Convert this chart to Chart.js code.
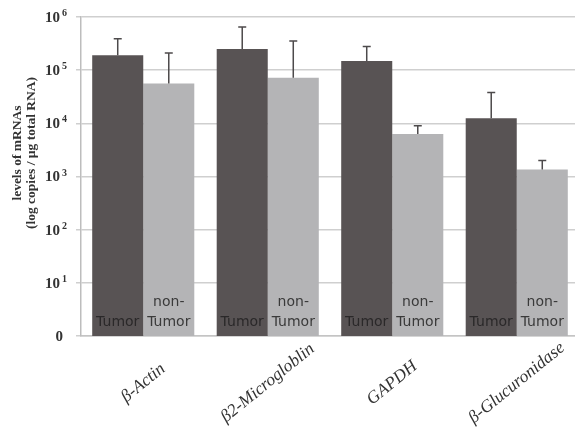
<!DOCTYPE html>
<html><head><meta charset="utf-8">
<script src="https://cdn.jsdelivr.net/npm/chart.js@4/dist/chart.umd.min.js"></script>
<style>
html,body{margin:0;padding:0;background:#fff;overflow:hidden;width:575px;height:432px}
#wrap{width:575px;height:432px;overflow:hidden;position:relative}
canvas{position:absolute;left:0;top:0}
</style></head>
<body><div id="wrap"><canvas id="c" width="580" height="432" style="width:580px;height:432px"></canvas></div>
<script>
const categories = ['β-Actin', 'β2-Microgloblin', 'GAPDH', 'β-Glucuronidase'];
const seriesNames = ['Tumor', 'non-Tumor'];
const tumorValues = [190000, 250000, 148000, 12400];
const tumorErrorTops = [390000, 650000, 280000, 38000];
const nonTumorValues = [56000, 72000, 6300, 1360];
const nonTumorErrorTops = [210000, 355000, 9000, 2000];
const yTickValues = [1, 10, 100, 1000, 10000, 100000, 1000000];
const yTickBases = ['0', '10', '10', '10', '10', '10', '10'];
const yTickExponents = ['', '1', '2', '3', '4', '5', '6'];
const yTitleLines = ['levels of mRNAs', '(log copies / µg total RNA)'];
const barInnerLabels = [['Tumor'], ['non-', 'Tumor']];

const SERIF = '"Liberation Serif", "DejaVu Serif", serif';
const SANS = '"DejaVu Sans", Verdana, sans-serif';
const errorTops = [tumorErrorTops, nonTumorErrorTops];

const drawPlugin = {
  id: 'custom',
  afterDatasetsDraw(chart) {
    const ctx = chart.ctx;
    const y = chart.scales.y;
    ctx.save();
    ctx.strokeStyle = '#4d4a4b';
    ctx.lineWidth = 1.5;
    chart.data.datasets.forEach((ds, d) => {
      const meta = chart.getDatasetMeta(d);
      meta.data.forEach((bar, i) => {
        const top = y.getPixelForValue(errorTops[d][i]);
        ctx.beginPath();
        ctx.moveTo(bar.x, bar.y);
        ctx.lineTo(bar.x, top);
        ctx.moveTo(bar.x - 4, top);
        ctx.lineTo(bar.x + 4, top);
        ctx.stroke();
      });
    });
    ctx.font = '14px ' + SANS;
    ctx.textAlign = 'center';
    ctx.textBaseline = 'alphabetic';
    chart.data.datasets.forEach((ds, d) => {
      const meta = chart.getDatasetMeta(d);
      const lines = barInnerLabels[d];
      ctx.fillStyle = d === 0 ? '#2a2829' : '#3a3a3a';
      meta.data.forEach((bar) => {
        for (let k = 0; k < lines.length; k++) {
          const base = y.bottom - 10 - (lines.length - 1 - k) * 20;
          ctx.fillText(lines[k], bar.x, base);
        }
      });
    });
    ctx.restore();
  },
  afterDraw(chart) {
    const ctx = chart.ctx;
    const y = chart.scales.y;
    const x = chart.scales.x;
    ctx.save();
    ctx.fillStyle = '#333';
    yTickValues.forEach((v, i) => {
      const py = y.getPixelForValue(v);
      if (yTickExponents[i] === '') {
        ctx.font = 'bold 15px ' + SERIF;
        ctx.textAlign = 'right';
        ctx.textBaseline = 'middle';
        ctx.fillText(yTickBases[i], 63, py + 1);
      } else {
        ctx.font = 'bold 15px ' + SERIF;
        ctx.textAlign = 'right';
        ctx.textBaseline = 'middle';
        ctx.fillText(yTickBases[i], 60, py + 1);
        ctx.font = 'bold 10px ' + SERIF;
        ctx.textAlign = 'left';
        ctx.textBaseline = 'alphabetic';
        ctx.fillText(yTickExponents[i], 62, py - 1);
      }
    });
    const cy = 153;
    [18, 32].forEach((lx, k) => {
      ctx.save();
      ctx.font = 'bold 13.5px ' + SERIF;
      ctx.textAlign = 'center';
      ctx.textBaseline = 'middle';
      ctx.translate(lx, cy);
      ctx.rotate(-Math.PI / 2);
      ctx.fillText(yTitleLines[k], 0, 0);
      ctx.restore();
    });
    ctx.font = 'italic 17.5px ' + SERIF;
    ctx.textAlign = 'center';
    ctx.textBaseline = 'middle';
    ctx.fillStyle = '#333';
    categories.forEach((c, i) => {
      const px = x.getPixelForValue(i);
      ctx.save();
      ctx.translate(px, 383);
      ctx.rotate(-39 * Math.PI / 180);
      ctx.fillText(c, 0, 0);
      ctx.restore();
    });
    ctx.restore();
  }
};

new Chart(document.getElementById('c'), {
  type: 'bar',
  data: {
    labels: categories,
    datasets: [
      { label: seriesNames[0], data: tumorValues, backgroundColor: '#585354', borderWidth: 0 },
      { label: seriesNames[1], data: nonTumorValues, backgroundColor: '#b4b4b6', borderWidth: 0 }
    ]
  },
  options: {
    responsive: false,
    animation: false,
    devicePixelRatio: 1,
    layout: { padding: { top: 17, right: 1, left: 0, bottom: 0 } },
    plugins: { legend: { display: false }, tooltip: { enabled: false } },
    datasets: { bar: { categoryPercentage: 0.82, barPercentage: 1.0 } },
    scales: {
      x: {
        grid: { display: false },
        border: { display: true, color: '#c4c4c4', width: 1.5 },
        ticks: { display: false },
        afterFit(s) { s.height = 96; }
      },
      y: {
        type: 'logarithmic',
        min: 1,
        max: 1000000,
        afterBuildTicks(s) { s.ticks = yTickValues.map(v => ({ value: v })); },
        ticks: { display: false },
        grid: { color: '#cfcfcf', lineWidth: 1.5, tickLength: 5, drawTicks: true },
        border: { display: true, color: '#bdbdbd', width: 1.5 },
        afterFit(s) { s.width = 81; }
      }
    }
  },
  plugins: [drawPlugin]
});
</script>
</body></html>
